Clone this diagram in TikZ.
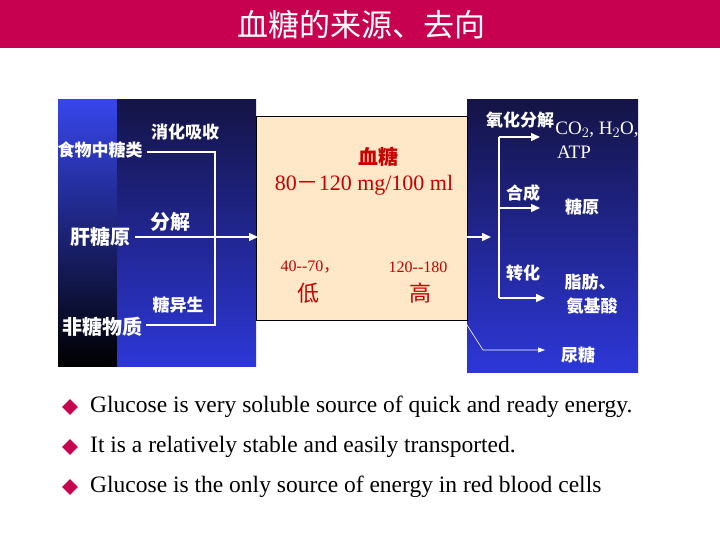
\documentclass[tikz,border=0pt]{standalone}
\usepackage{fontspec}
\setmainfont{Liberation Serif}
\newfontfamily\cjk{Noto Sans CJK SC}
\usetikzlibrary{arrows.meta,shapes.geometric}
\definecolor{titlered}{RGB}{200,0,80}
\definecolor{navy}{RGB}{20,20,70}
\definecolor{bright}{RGB}{45,55,215}
\definecolor{lightblue}{RGB}{55,70,235}
\definecolor{peach}{RGB}{255,232,200}
\definecolor{txtred}{RGB}{200,0,0}
\tikzset{
 wl/.style={draw=white,line width=1.5pt},
 wa/.style={draw=white,line width=1.5pt,-{Triangle[length=9pt,width=8pt]}},
 wt/.style={text=white,font=\cjk\bfseries\fontsize{17}{18}\selectfont,inner sep=0pt},
 rt/.style={text=txtred,inner sep=0pt},
 bullet/.style={fill=titlered,diamond,minimum size=16pt,inner sep=0pt},
 btxt/.style={anchor=west,inner sep=0pt,font=\fontsize{23.5}{25}\selectfont}
}
\begin{document}
\begin{tikzpicture}[x=1pt,y=-1pt]
\useasboundingbox (0,0) rectangle (720,540);
\fill[white] (0,0) rectangle (720,540);
\fill[titlered] (0,0) rectangle (720,48);
\node[text=white,font=\cjk\fontsize{31}{32}\selectfont] (title) at (361,25) {血糖的来源、去向};
% panels
\shade[top color=lightblue, bottom color=black] (58,100) rectangle (117,366);
\shade[top color=navy, bottom color=bright] (117,100) rectangle (256,366);
\shade[top color=navy, bottom color=bright] (467,100) rectangle (638,372);
\draw[black,fill=peach] (256,116) rectangle (467,320);
% left texts
\node[wt] (food) at (100,150) {食物中糖类};
\node[wt] (xh) at (185,132) {消化吸收};
\node[wt,font=\cjk\bfseries\fontsize{20}{21}\selectfont] (gty) at (100,237) {肝糖原};
\node[wt,font=\cjk\bfseries\fontsize{20}{21}\selectfont] (fj) at (170,222) {分解};
\node[wt] (tys) at (178,305) {糖异生};
\node[wt,font=\cjk\bfseries\fontsize{20}{21}\selectfont] (ftw) at (102,327) {非糖物质};
\coordinate (j1) at (215,152); \coordinate (j2) at (215,325);
\coordinate (in) at (258,237);
\draw[wl] (food.east |- j1) ++(4,0) -- (j1) -- (j2) -- ([xshift=4pt]ftw.east |- j2);
\draw[wa] ([xshift=5pt]gty.east |- in) -- (in);
% middle
\node[rt,font=\cjk\bfseries\fontsize{20}{21}\selectfont] (xt) at (378,157) {血糖};
\node[rt,font=\fontsize{22}{23}\selectfont] (r1) at (364,185) {80{\cjk －}120 mg/100 ml};
\node[rt,font=\fontsize{16}{17}\selectfont] (l1) at (310,267) {40-{}-70{\cjk ，}};
\node[rt,font=\cjk\fontsize{22}{23}\selectfont] (low) at (308,293) {低};
\node[rt,font=\fontsize{16}{17}\selectfont] (h1) at (418,267) {120-{}-180};
\node[rt,font=\cjk\fontsize{22}{23}\selectfont] (high) at (420,293) {高};
% right
\coordinate (o0) at (467,237); \coordinate (o1) at (491,237);
\draw[wa] (o0) -- (o1);
\coordinate (t1) at (499,137); \coordinate (t2) at (499,208); \coordinate (t3) at (499,298);
\draw[wl] (t1) -- (t3);
\coordinate (a1) at (540,137); \coordinate (a2) at (540,208); \coordinate (a3) at (545,298);
\draw[wa] (t1) -- (a1);
\draw[wa] (t2) -- (a2);
\draw[wa] (t3) -- (a3);
\node[wt] (yh) at (520,120) {氧化分解};
\node[text=white,inner sep=0pt,font=\fontsize{19}{20}\selectfont] (co2) at (597,130) {CO$_2$, H$_2$O,};
\node[text=white,inner sep=0pt,font=\fontsize{19}{20}\selectfont] (atp) at (574,152) {ATP};
\node[wt] (hc) at (523,193) {合成};
\node[wt] (ty) at (582,207) {糖原};
\node[wt] (zh) at (523,273) {转化};
\node[wt] (zf) at (590,282) {脂肪、};
\node[wt] (ajs) at (592,306) {氨基酸};
\coordinate (u0) at (467,325); \coordinate (u1) at (483,350); \coordinate (u2) at (545,350);
\draw[white,line width=0.6pt,-{Triangle[length=7pt,width=5pt]}] (u0) -- (u1) -- (u2);
\node[wt] (nt) at (578,355) {尿糖};
% bullets
\node[bullet] (b1) at (70,407) {}; \node[btxt] (t1x) at (90,407) {Glucose is very soluble source of quick and ready energy.};
\node[bullet] (b2) at (70,447) {}; \node[btxt] (t2x) at (90,447) {It is a relatively stable and easily transported.};
\node[bullet] (b3) at (70,487) {}; \node[btxt] (t3x) at (90,487) {Glucose is the only source of energy in red blood cells};
\end{tikzpicture}
\end{document}
